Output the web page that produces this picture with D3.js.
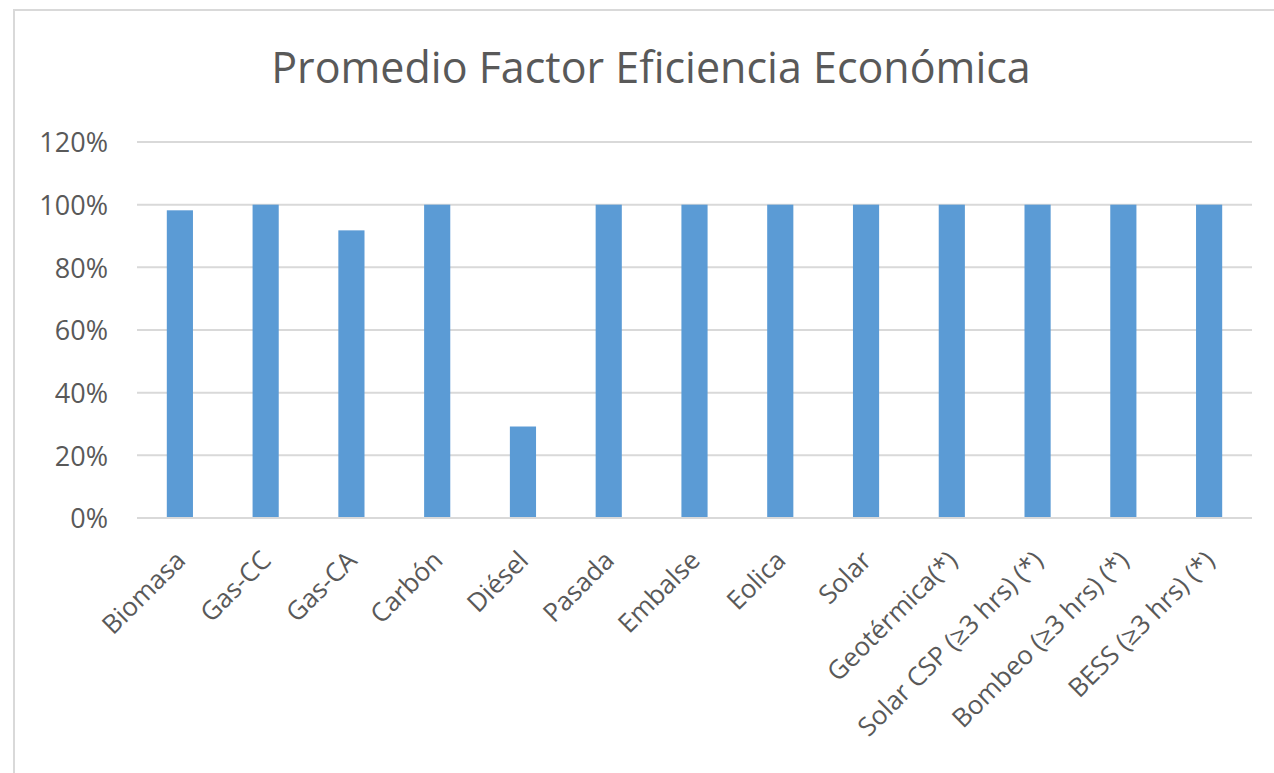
<!DOCTYPE html>
<html><head><meta charset="utf-8">
<script src="https://cdn.jsdelivr.net/npm/d3@7"></script>
<style>body{margin:0;background:#fff;overflow:hidden}svg{display:block}</style>
</head><body>
<script>
const categories = ["Biomasa","Gas-CC","Gas-CA","Carbón","Diésel","Pasada","Embalse","Eolica","Solar","Geotérmica(*)","Solar CSP (≥3 hrs) (*)","Bombeo (≥3 hrs) (*)","BESS (≥3 hrs) (*)"];
const values = [0.982,1.0,0.918,1.0,0.292,1.0,1.0,1.0,1.0,1.0,1.0,1.0,1.0];
const yTicks = [0,0.2,0.4,0.6,0.8,1.0,1.2];
const titleText = "Promedio Factor Eficiencia Económica";

const W=1274,H=773;
const FONT='"Open Sans", "Noto Sans", sans-serif';
const svg=d3.select("body").append("svg").attr("width",W).attr("height",H);
svg.append("rect").attr("x",14).attr("y",10).attr("width",W).attr("height",H)
  .attr("fill","#fff").attr("stroke","#d9d9d9").attr("stroke-width",2);

const x=d3.scaleBand().domain(categories).range([137,1252]).paddingInner(0.695).paddingOuter(0.3475);
const y=d3.scaleLinear().domain([0,1.2]).range([518,142]);

// gridlines
svg.append("g").selectAll("line").data(yTicks).join("line")
  .attr("x1",137).attr("x2",1252).attr("y1",d=>y(d)).attr("y2",d=>y(d))
  .attr("stroke","#d9d9d9").attr("stroke-width",2);

// bars
svg.append("g").selectAll("rect").data(categories).join("rect")
  .attr("x",d=>x(d)).attr("width",x.bandwidth())
  .attr("y",(d,i)=>y(values[i])).attr("height",(d,i)=>y(0)-y(values[i]))
  .attr("fill","#5b9bd5");

// axis line
svg.append("line").attr("x1",137).attr("x2",1252).attr("y1",y(0)).attr("y2",y(0))
  .attr("stroke","#d9d9d9").attr("stroke-width",2);

// y axis labels
const yAxis=d3.axisLeft(y).tickValues(yTicks).tickFormat(d3.format(".0%")).tickSize(0).tickPadding(0);
const ga=svg.append("g").attr("transform","translate(108,0)").call(yAxis);
ga.select(".domain").remove();
ga.selectAll("text").attr("font-family",FONT).attr("font-size",27).attr("fill","#595959").attr("dy","0.36em");

// x labels
const xAxis=d3.axisBottom(x).tickSize(0).tickPadding(0);
const gx=svg.append("g").attr("transform",`translate(0,${y(0)})`).call(xAxis);
gx.select(".domain").remove();
gx.selectAll("text").attr("font-family",FONT).attr("font-size",26).attr("fill","#595959")
  .attr("text-anchor","end").attr("dy",0).attr("y",0)
  .attr("transform","translate(7,44) rotate(-45)");

// title
svg.append("text").attr("x",651).attr("y",83).attr("text-anchor","middle")
  .attr("font-family",FONT).attr("font-size",43).attr("fill","#595959").text(titleText);
</script>
</body></html>
